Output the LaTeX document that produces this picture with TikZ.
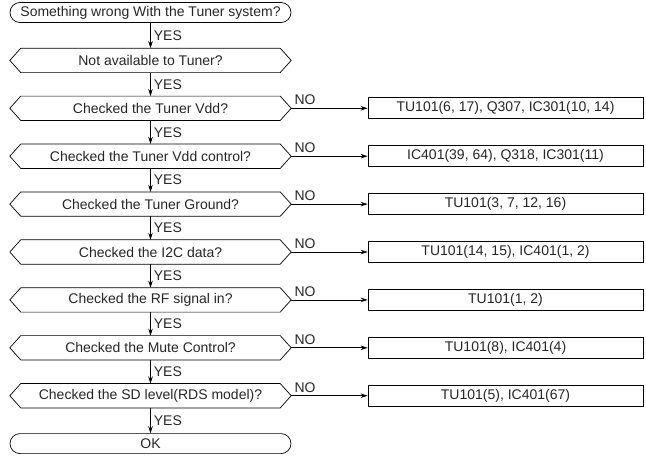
\documentclass[tikz,border=0pt]{standalone}
\usepackage{fontspec}
\setmainfont{Liberation Sans}
\usetikzlibrary{shapes.misc, arrows.meta}
\tikzset{
  every node/.style={font=\fontsize{14}{16}\selectfont, text=black!85, inner sep=0pt},
  shapeline/.style={draw=black, line width=0.7pt},
  hexbox/.style={minimum width=281pt, minimum height=24pt},
  endbox/.style={rounded rectangle, shapeline, minimum width=281pt, minimum height=20pt},
  resbox/.style={rectangle, shapeline, minimum width=275pt, minimum height=21pt},
  flowarrow/.style={line width=0.7pt, -{Stealth[length=7pt, width=4.5pt]}},
  lbl/.style={anchor=west},
}
\begin{document}
\begin{tikzpicture}[x=1pt, y=-1pt]
\useasboundingbox (0,0) rectangle (646,458);
% main column
\node[endbox] (s0) at (150.5,12.5) {Something wrong With the Tuner system?};
\node[hexbox] (h1) at (150.5,60.4) {Not available to Tuner?};
\node[hexbox] (h2) at (150.5,108.3) {Checked the Tuner Vdd?};
\node[hexbox] (h3) at (150.5,156.2) {Checked the Tuner Vdd control?};
\node[hexbox] (h4) at (150.5,204.1) {Checked the Tuner Ground?};
\node[hexbox] (h5) at (150.5,252.0) {Checked the I2C data?};
\node[hexbox] (h6) at (150.5,299.9) {Checked the RF signal in?};
\node[hexbox] (h7) at (150.5,347.8) {Checked the Mute Control?};
\node[hexbox] (h8) at (150.5,395.7) {Checked the SD level(RDS model)?};
\node[endbox] (ok) at (150.5,443.6) {OK};
% hexagon outlines
\foreach \h in {h1,h2,h3,h4,h5,h6,h7,h8}{
  \draw[shapeline, line join=miter] ([xshift=11pt]\h.north west) -- ([xshift=-11pt]\h.north east) -- (\h.east)
    -- ([xshift=-11pt]\h.south east) -- ([xshift=11pt]\h.south west) -- (\h.west) -- cycle;
}
% result boxes
\node[resbox] (r2) at (505.5,108.3) {TU101(6, 17), Q307, IC301(10, 14)};
\node[resbox] (r3) at (505.5,156.2) {IC401(39, 64), Q318, IC301(11)};
\node[resbox] (r4) at (505.5,204.1) {TU101(3, 7, 12, 16)};
\node[resbox] (r5) at (505.5,252.0) {TU101(14, 15), IC401(1, 2)};
\node[resbox] (r6) at (505.5,299.9) {TU101(1, 2)};
\node[resbox] (r7) at (505.5,347.8) {TU101(8), IC401(4)};
\node[resbox] (r8) at (505.5,395.7) {TU101(5), IC401(67)};
% YES arrows
\foreach \a/\b in {s0/h1,h1/h2,h2/h3,h3/h4,h4/h5,h5/h6,h6/h7,h7/h8,h8/ok}{
  \draw[flowarrow] (\a.south) -- node[lbl, xshift=3pt]{YES} (\b.north);
}
% NO arrows
\foreach \i in {2,...,8}{
  \draw[flowarrow] (h\i.east) -- node[pos=0.04, anchor=south west, yshift=3pt]{NO} (r\i.west);
}
\end{tikzpicture}
\end{document}
